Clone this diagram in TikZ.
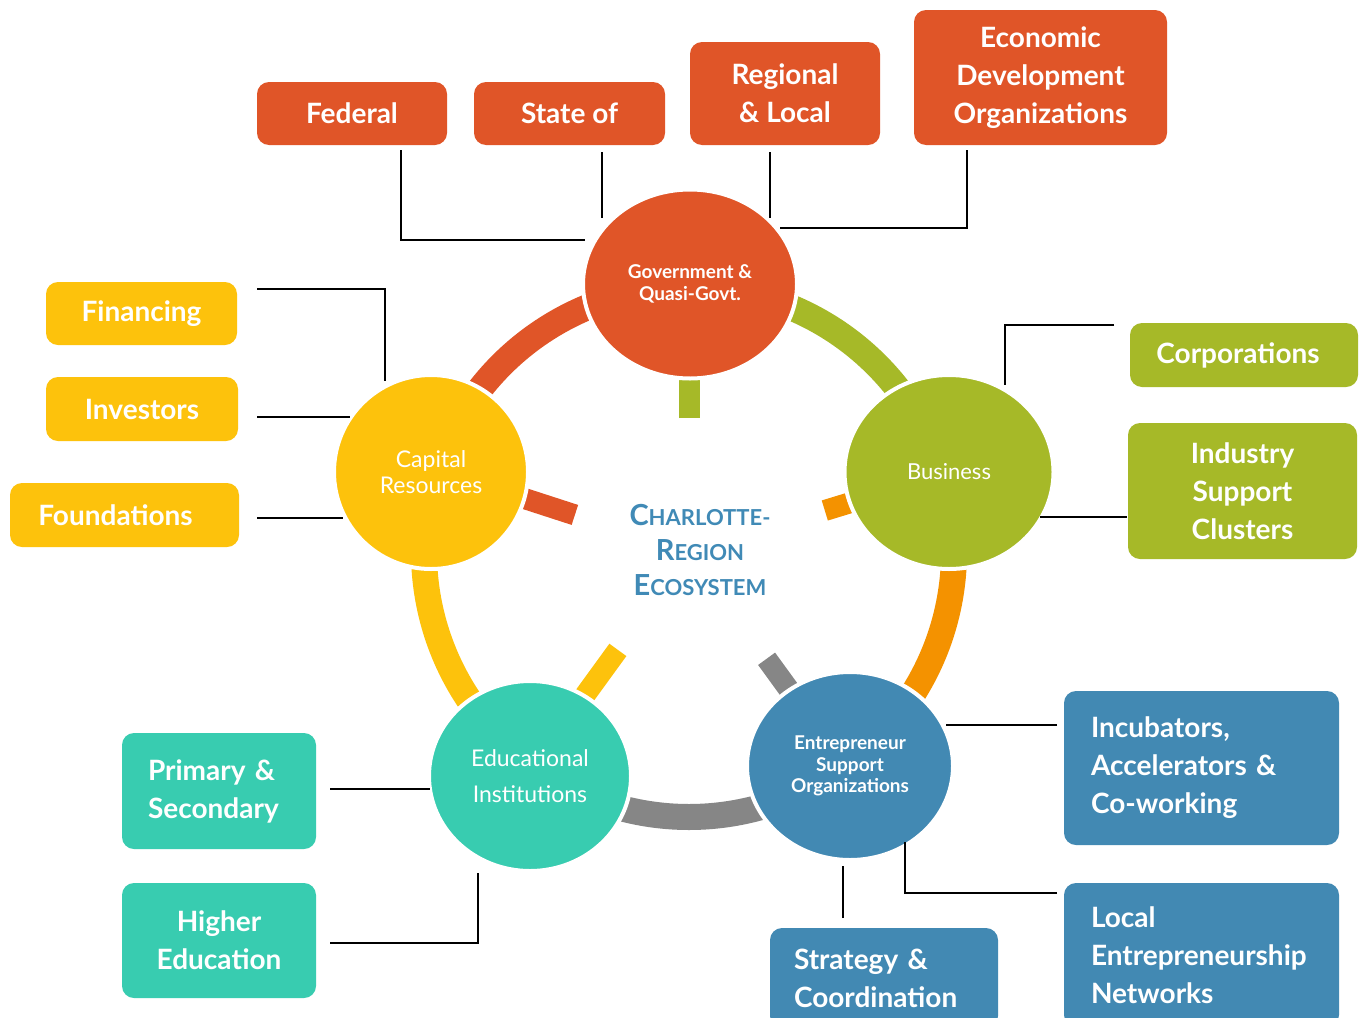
\documentclass[tikz,border=0pt]{standalone}
\usepackage{fontspec}
\setmainfont{Lato}
\usetikzlibrary{calc,shapes.geometric}
\definecolor{cgov}{RGB}{224,85,40}
\definecolor{ccap}{RGB}{253,194,12}
\definecolor{cbus}{RGB}{166,185,40}
\definecolor{cedu}{RGB}{56,204,176}
\definecolor{ceso}{RGB}{66,137,179}
\definecolor{corg}{RGB}{244,146,0}
\definecolor{cgry}{RGB}{134,134,134}
\definecolor{ctitle}{RGB}{64,138,182}
\newcommand\tcapL[1]{{\fontsize{29}{35}\selectfont #1}}
\newcommand\tsmlL[1]{{\fontsize{22}{35}\selectfont #1}}
\begin{document}
\begin{tikzpicture}[x=1pt,y=1pt,
 ring/.style={line width=26pt},
 barline/.style={line width=21pt},
 bubble/.style={ellipse, draw=white, line width=4pt, inner sep=0pt, text=white, align=center},
 tag/.style={rounded corners=12pt, inner sep=0pt, text=white, align=center, font=\bfseries\fontsize{28}{38}\selectfont},
 conn/.style={draw=black, line width=1.8pt},
 boldsmall/.style={font=\bfseries\fontsize{19}{21.5}\selectfont},
 plainmid/.style={font=\fontsize{23}{26}\selectfont}]
\clip (0,0) rectangle (1364,-1017);
\fill[white] (0,0) rectangle (1364,-1017);
\coordinate (O) at (689,-552);
% ring arcs
\draw[ring,cbus] (O) ++(18:265) arc[start angle=18,end angle=90,radius=265];
\draw[ring,cgov] (O) ++(90:265) arc[start angle=90,end angle=162,radius=265];
\draw[ring,ccap] (O) ++(162:265) arc[start angle=162,end angle=234,radius=265];
\draw[ring,cgry] (O) ++(234:265) arc[start angle=234,end angle=306,radius=265];
\draw[ring,corg] (O) ++(306:265) arc[start angle=306,end angle=378,radius=265];
% radial bars
\draw[barline,cbus] ($(O)+(90:134)$) -- ($(O)+(90:190)$);
\draw[barline,cgov] ($(O)+(162:120)$) -- ($(O)+(162:190)$);
\draw[barline,corg] ($(O)+(17:142)$) -- ($(O)+(17:190)$);
\draw[barline,ccap] ($(O)+(234:121)$) -- ($(O)+(234:190)$);
\draw[barline,cgry] ($(O)+(306:132)$) -- ($(O)+(306:190)$);
% circles
\node[bubble, fill=cgov, minimum width=214pt, minimum height=189pt, boldsmall] (gov) at (690,-284) {Government \&\\Quasi-Govt.};
\node[bubble, fill=ccap, minimum width=194pt, minimum height=194pt, plainmid] (cap) at (431,-472) {Capital\\Resources};
\node[bubble, fill=cbus, minimum width=209pt, minimum height=194pt, font=\fontsize{22}{26}\selectfont] (bus) at (949,-472) {Business};
\node[bubble, fill=cedu, minimum width=202pt, minimum height=190pt, font=\fontsize{23}{36}\selectfont] (edu) at (530,-776) {Educational\\Institutions};
\node[bubble, fill=ceso, minimum width=206pt, minimum height=188pt, boldsmall] (eso) at (850,-766) {Entrepreneur\\Support\\Organizations};
% centre title
\node[font=\bfseries\fontsize{29}{35}\selectfont, text=ctitle, align=center] (title) at (700,-550)
 {\tcapL{C}\tsmlL{HARLOTTE-}\\\tcapL{R}\tsmlL{EGION}\\\tcapL{E}\tsmlL{COSYSTEM}};
% boxes: government
\node[tag, fill=cgov, minimum width=190pt, minimum height=63pt] (fed) at (352,-113.5) {Federal};
\node[tag, fill=cgov, minimum width=191pt, minimum height=63pt] (sta) at (569.5,-113.5) {State of};
\node[tag, fill=cgov, minimum width=190pt, minimum height=103pt] (reg) at (785,-93.5) {Regional\\\& Local};
\node[tag, fill=cgov, minimum width=253pt, minimum height=135pt] (eco) at (1040.5,-77.5) {Economic\\Development\\Organizations};
% capital
\node[tag, fill=ccap, minimum width=191pt, minimum height=63pt] (fin) at (141.5,-313.5) {Financing};
\node[tag, fill=ccap, minimum width=192pt, minimum height=64pt] (inv) at (142,-409) {Investors};
\node[tag, fill=ccap, minimum width=229pt, minimum height=64pt] (fou) at (124.5,-515) {\hspace*{-18pt}Foundations};
% business
\node[tag, fill=cbus, minimum width=228pt, minimum height=64pt] (cor) at (1244,-355) {\hspace*{-12pt}Corporations};
\node[tag, fill=cbus, minimum width=229pt, minimum height=136pt] (ind) at (1242.5,-491) {Industry\\Support\\Clusters};
% education
\node[tag, fill=cedu, minimum width=194pt, minimum height=116pt, text width=142pt, align=left] (pri) at (219,-791) {Primary \&\\Secondary};
\node[tag, fill=cedu, minimum width=194pt, minimum height=115pt] (hig) at (219,-940.5) {Higher\\Education};
% entrepreneur support
\node[tag, fill=ceso, minimum width=275pt, minimum height=154pt, text width=221pt, align=left] (inc) at (1201.5,-768) {Incubators,\\Accelerators \&\\Co-working};
\node[tag, fill=ceso, minimum width=228pt, minimum height=100pt, text width=180pt, align=left] (str) at (884,-978) {Strategy \&\\Coordination};
\node[tag, fill=ceso, minimum width=275pt, minimum height=144pt, text width=221pt, align=left] (loc) at (1201.5,-955) {Local\\Entrepreneurship\\Networks};
% connector end points
\coordinate (fedA) at (401,-150);  \coordinate (fedB) at (585,-240);
\coordinate (staA) at (602,-152);  \coordinate (staB) at (602,-218);
\coordinate (regA) at (770,-152);  \coordinate (regB) at (770,-218);
\coordinate (ecoA) at (967,-150);  \coordinate (ecoB) at (780,-228);
\coordinate (finA) at (257,-289);  \coordinate (finB) at (385,-381);
\coordinate (invA) at (257,-417);  \coordinate (invB) at (350,-417);
\coordinate (fouA) at (257,-518);  \coordinate (fouB) at (343,-518);
\coordinate (corA) at (1114,-325); \coordinate (corB) at (1005,-385);
\coordinate (indA) at (1127,-517); \coordinate (indB) at (1040,-517);
\coordinate (priA) at (330,-789);  \coordinate (priB) at (430,-789);
\coordinate (higA) at (330,-943);  \coordinate (higB) at (478,-873);
\coordinate (incA) at (1057,-725); \coordinate (incB) at (946,-725);
\coordinate (strA) at (843,-918);  \coordinate (strB) at (843,-866);
\coordinate (locA) at (1057,-893); \coordinate (locB) at (905,-842);
% connectors
\draw[conn] (fedA) |- (fedB);
\draw[conn] (staA) -- (staB);
\draw[conn] (regA) -- (regB);
\draw[conn] (ecoA) |- (ecoB);
\draw[conn] (finA) -| (finB);
\draw[conn] (invA) -- (invB);
\draw[conn] (fouA) -- (fouB);
\draw[conn] (corA) -| (corB);
\draw[conn] (indA) -- (indB);
\draw[conn] (priA) -- (priB);
\draw[conn] (higA) -| (higB);
\draw[conn] (incA) -- (incB);
\draw[conn] (strA) -- (strB);
\draw[conn] (locA) -| (locB);
\end{tikzpicture}
\end{document}
